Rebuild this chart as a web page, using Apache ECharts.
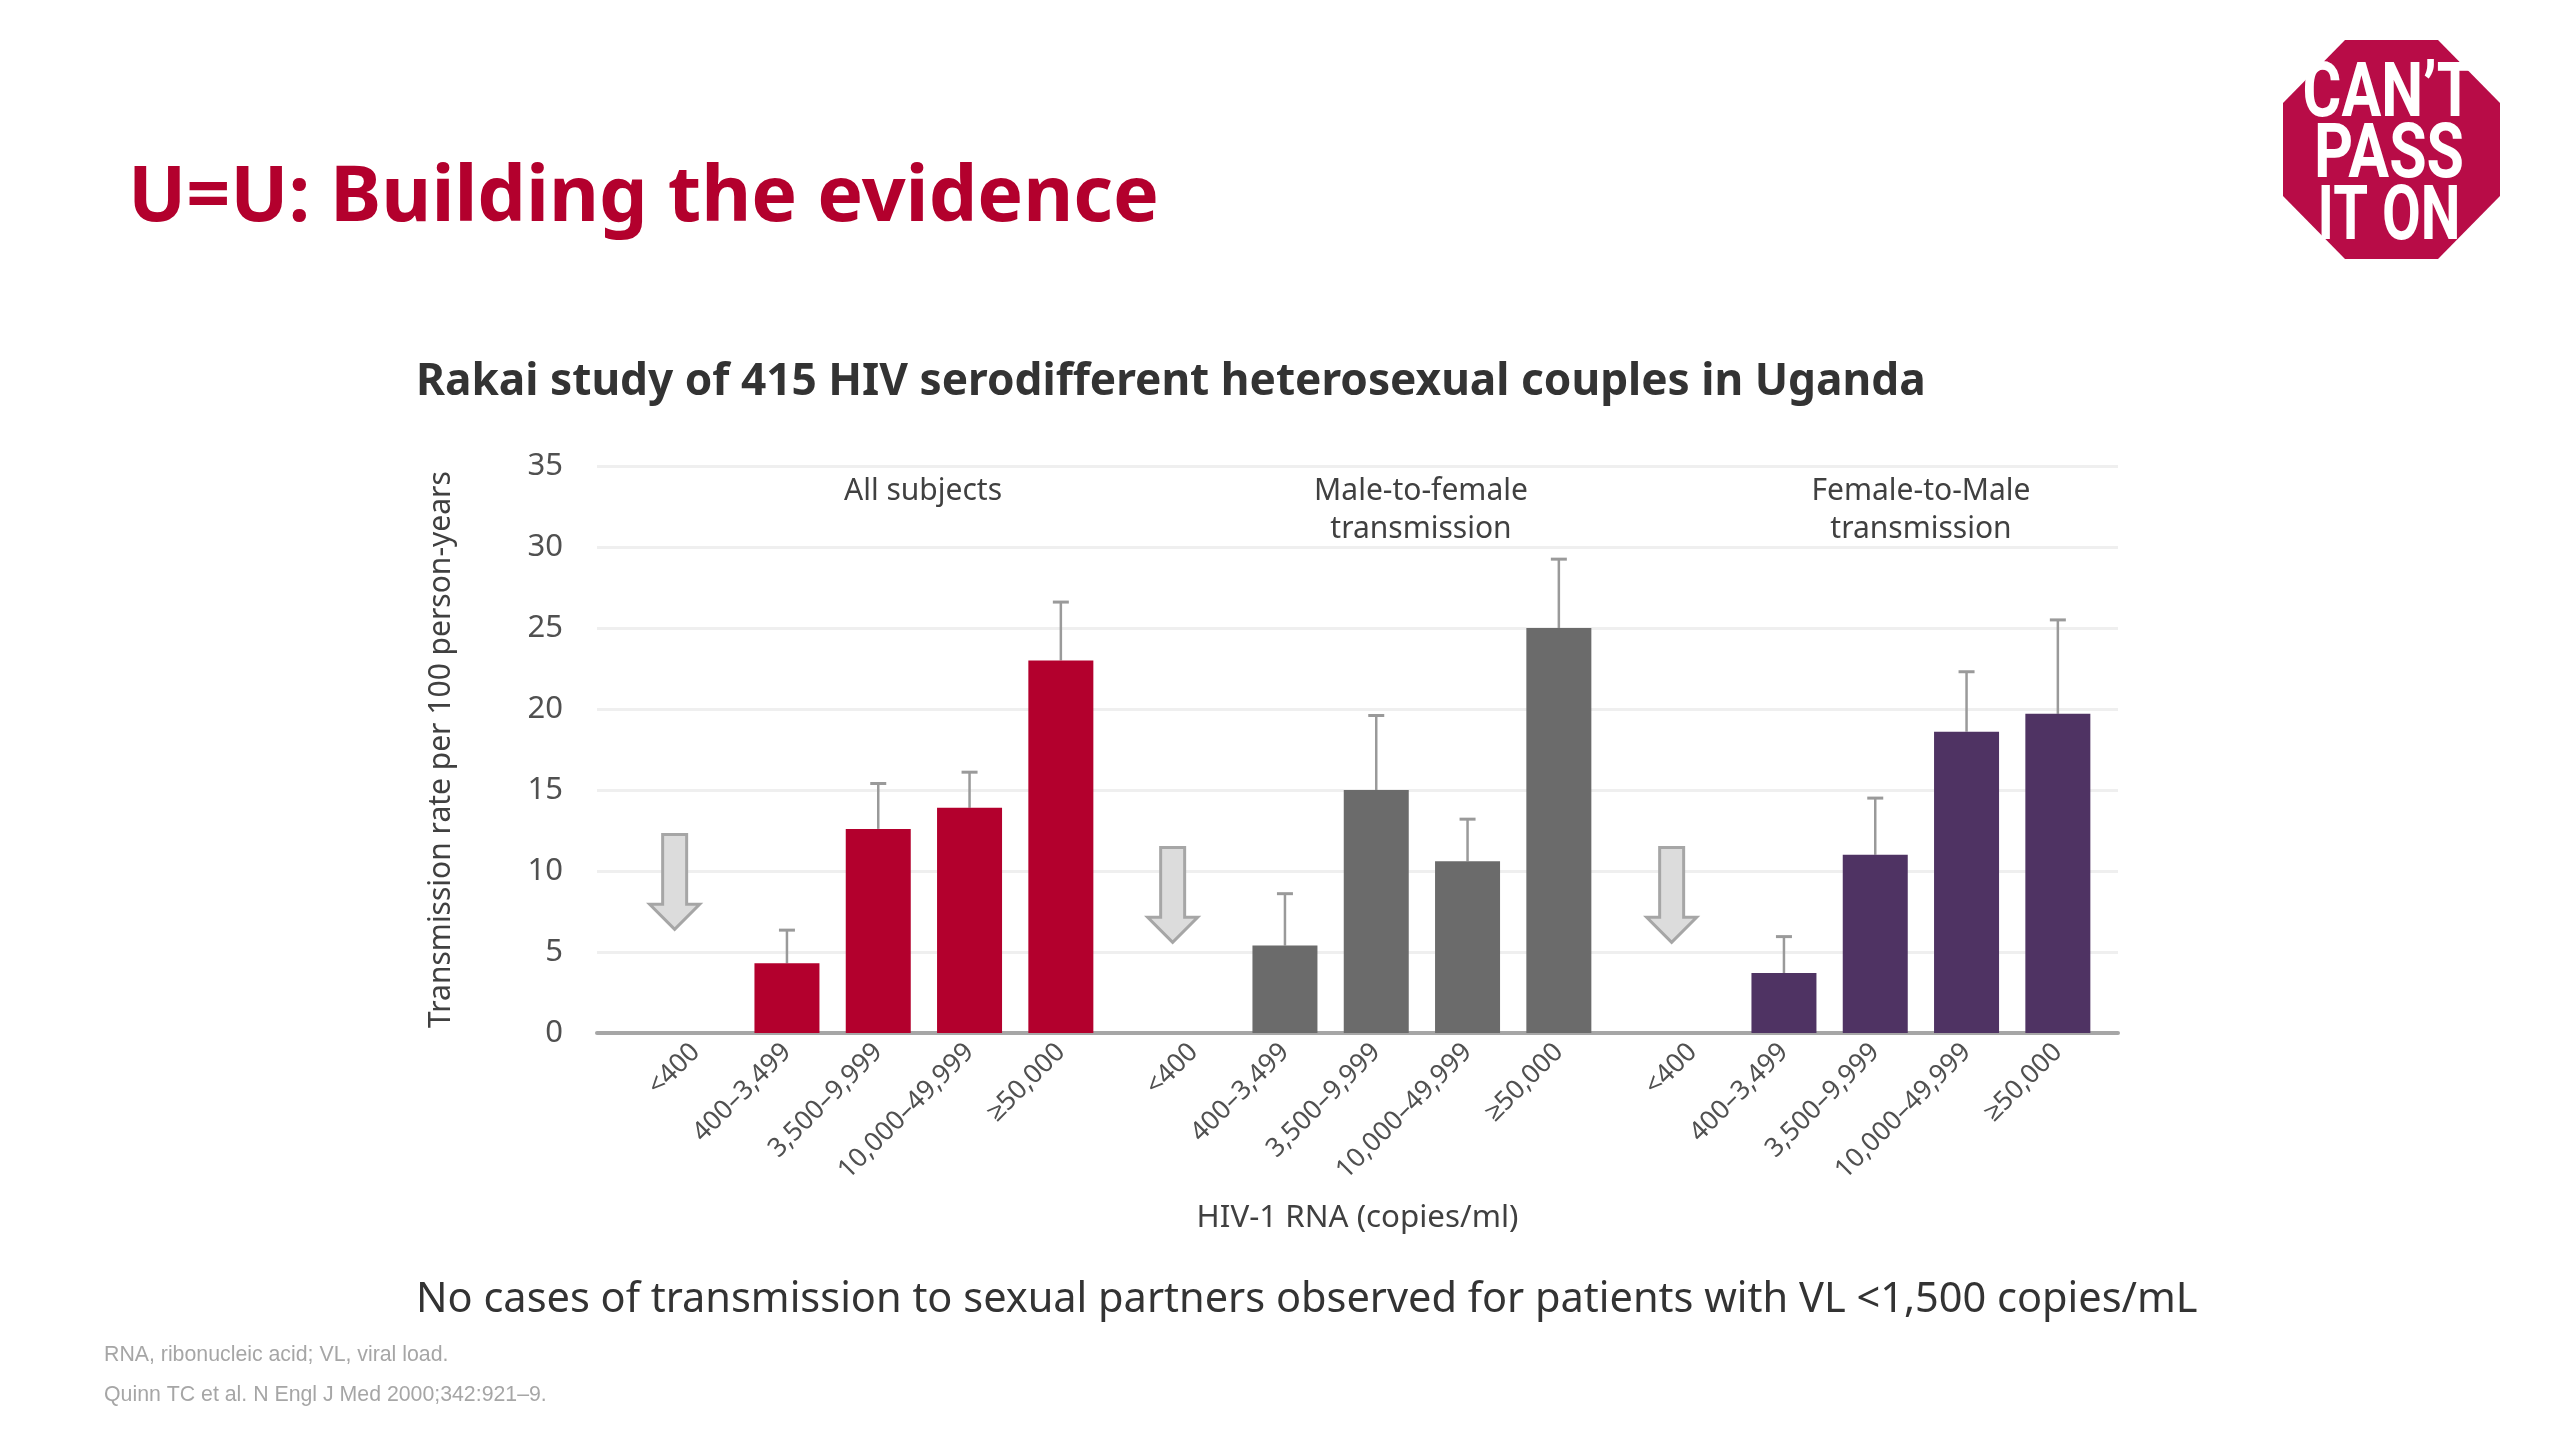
<!DOCTYPE html>
<html>
<head>
<meta charset="utf-8">
<style>html,body{margin:0;padding:0;background:#fff}#main{width:2560px;height:1440px}</style>
<script src="https://cdn.jsdelivr.net/npm/echarts@6/dist/echarts.min.js"></script>
</head>
<body>
<div id="main"></div>
<script>
// bins repeat for each of the three panels
var categories = ['<400', '400\u20133,499', '3,500\u20139,999', '10,000\u201349,999', '\u226550,000'];
var yTicks = [0, 5, 10, 15, 20, 25, 30, 35];

var allSubjects = [null, 4.3, 12.6, 13.9, 23];
var maleToFemale = [null, 5.4, 15, 10.6, 25];
var femaleToMale = [null, 3.7, 11, 18.6, 19.7];

var allSubjectsUpper = [null, 6.35, 15.4, 16.1, 26.6];
var maleToFemaleUpper = [null, 8.6, 19.6, 13.2, 29.25];
var femaleToMaleUpper = [null, 5.95, 14.5, 22.3, 25.5];

// arrows over the <400 bins: [top value, tip value]
var arrowSpans = [[12.25, 6.4], [11.45, 5.6], [11.45, 5.6]];

var panelNames = ['All subjects', 'Male-to-female\ntransmission', 'Female-to-Male\ntransmission'];
var panelColors = ['#b3002d', '#6b6b6b', '#4f3363'];
var panelValues = [allSubjects, maleToFemale, femaleToMale];
var panelUppers = [allSubjectsUpper, maleToFemaleUpper, femaleToMaleUpper];
var panelLefts = [650, 1148, 1647];
var panelNameCentres = [923, 1421, 1921];

var font = '"Noto Sans", sans-serif';
var plotTop = 466, plotBottom = 1033, plotLeft = 597, plotRight = 2118;
var panelWidth = 456.5;

var myChart = echarts.init(document.getElementById('main'));

var grids = [{ left: plotLeft, top: plotTop, width: plotRight - plotLeft, height: plotBottom - plotTop }];
var xAxes = [{
    gridIndex: 0, type: 'category', data: [''],
    axisLine: { lineStyle: { color: '#a6a6a6', width: 4 } },
    axisTick: { show: false }, axisLabel: { show: false },
    name: 'HIV-1 RNA (copies/ml)', nameLocation: 'middle', nameGap: 170,
    nameTextStyle: { fontFamily: font, fontSize: 31.3, color: '#404040' }
}];
var yAxes = [{
    gridIndex: 0, type: 'value', min: yTicks[0], max: yTicks[yTicks.length - 1], interval: 5,
    axisLine: { show: false }, axisTick: { show: false },
    axisLabel: { fontFamily: font, fontSize: 31, color: '#505050', margin: 34 },
    splitLine: { lineStyle: { color: '#efefef', width: 3 } },
    name: 'Transmission rate per 100 person-years', nameLocation: 'middle', nameGap: 141,
    nameTextStyle: { fontFamily: font, fontSize: 30, color: '#404040' }
}];
var series = [];

panelValues.forEach(function (vals, i) {
    var g = i + 1;
    grids.push({ left: panelLefts[i], top: plotTop, width: panelWidth, height: plotBottom - plotTop });
    xAxes.push({
        gridIndex: g, type: 'category', data: categories,
        axisLine: { show: false }, axisTick: { show: false },
        axisLabel: { interval: 0, rotate: 45, fontFamily: font, fontSize: 26.5, color: '#505050', margin: 15 }
    });
    yAxes.push({ gridIndex: g, type: 'value', min: 0, max: 35, interval: 5, show: false, splitLine: { show: false } });
    series.push({
        type: 'bar', xAxisIndex: g, yAxisIndex: g, data: vals, barWidth: 65,
        itemStyle: { color: panelColors[i] }, z: 3
    });
    // upper error whiskers
    series.push({
        type: 'custom', xAxisIndex: g, yAxisIndex: g, z: 2,
        data: panelUppers[i].map(function (u, k) { return [k, vals[k], u]; }),
        renderItem: function (params, api) {
            if (api.value(2) == null || isNaN(api.value(2))) return;
            var base = api.coord([api.value(0), api.value(1)]);
            var top = api.coord([api.value(0), api.value(2)]);
            var style = { stroke: '#9a9a9a', lineWidth: 2.5 };
            return {
                type: 'group', children: [
                    { type: 'line', shape: { x1: base[0], y1: base[1], x2: top[0], y2: top[1] }, style: style },
                    { type: 'line', shape: { x1: top[0] - 8, y1: top[1], x2: top[0] + 8, y2: top[1] }, style: { stroke: '#9a9a9a', lineWidth: 3 } }
                ]
            };
        }
    });
    // grey arrows marking the empty <400 bin
    series.push({
        type: 'custom', xAxisIndex: g, yAxisIndex: g, z: 2,
        data: [[0, arrowSpans[i][0], arrowSpans[i][1]]],
        renderItem: function (params, api) {
            var t = api.coord([api.value(0), api.value(1)]);
            var b = api.coord([api.value(0), api.value(2)]);
            var cx = t[0] - 21;
            return {
                type: 'polygon',
                shape: { points: [[cx - 12, t[1]], [cx + 12, t[1]], [cx + 12, b[1] - 25], [cx + 25, b[1] - 25], [cx, b[1]], [cx - 25, b[1] - 25], [cx - 12, b[1] - 25]] },
                style: { fill: '#dcdcdc', stroke: '#a6a6a6', lineWidth: 3 }
            };
        }
    });
});

var panelLabels = panelNames.map(function (name, i) {
    return { type: 'text', x: panelNameCentres[i], y: 472, style: { text: name, fontFamily: font, fontSize: 30, fill: '#404040', lineHeight: 38, align: 'center' } };
});

function logoLine(text, cx, cy, sx) {
    return { type: 'text', x: cx, y: cy, scaleX: sx, style: { text: text, fontFamily: 'Roboto', fontWeight: 'bold', fontSize: 76, fill: '#fff', align: 'center', verticalAlign: 'middle' } };
}

var option = {
    backgroundColor: '#fff',
    animation: false,
    grid: grids,
    xAxis: xAxes,
    yAxis: yAxes,
    series: series,
    graphic: [
        { type: 'text', left: 128, top: 161, style: { text: 'U=U: Building the evidence', fontFamily: font, fontWeight: 'bold', fontSize: 77, fill: '#b3002d' } },
        { type: 'text', left: 416, top: 360, style: { text: 'Rakai study of 415 HIV serodifferent heterosexual couples in Uganda', fontFamily: font, fontWeight: 'bold', fontSize: 44.2, fill: '#333' } },
        { type: 'text', left: 416, top: 1279, style: { text: 'No cases of transmission to sexual partners observed for patients with VL <1,500 copies/mL', fontFamily: font, fontSize: 41.5, fill: '#333' } },
        { type: 'text', left: 104, top: 1345, style: { text: 'RNA, ribonucleic acid; VL, viral load.', fontFamily: '"Liberation Sans"', fontSize: 21.3, fill: '#a6a6a6' } },
        { type: 'text', left: 104, top: 1385, style: { text: 'Quinn TC et al. N Engl J Med 2000;342:921\u20139.', fontFamily: '"Liberation Sans"', fontSize: 21.3, fill: '#a6a6a6' } },
        { type: 'polygon', shape: { points: [[2345, 40], [2438, 40], [2500, 103], [2500, 196], [2438, 259], [2345, 259], [2283, 196], [2283, 103]] }, style: { fill: '#b80c47' } },
        logoLine('CAN\u2019T', 2388, 97, 0.78),
        logoLine('PASS', 2389, 158, 0.8),
        logoLine('IT ON', 2389, 220, 0.74)
    ].concat(panelLabels)
};

myChart.setOption(option);
</script>
</body>
</html>
